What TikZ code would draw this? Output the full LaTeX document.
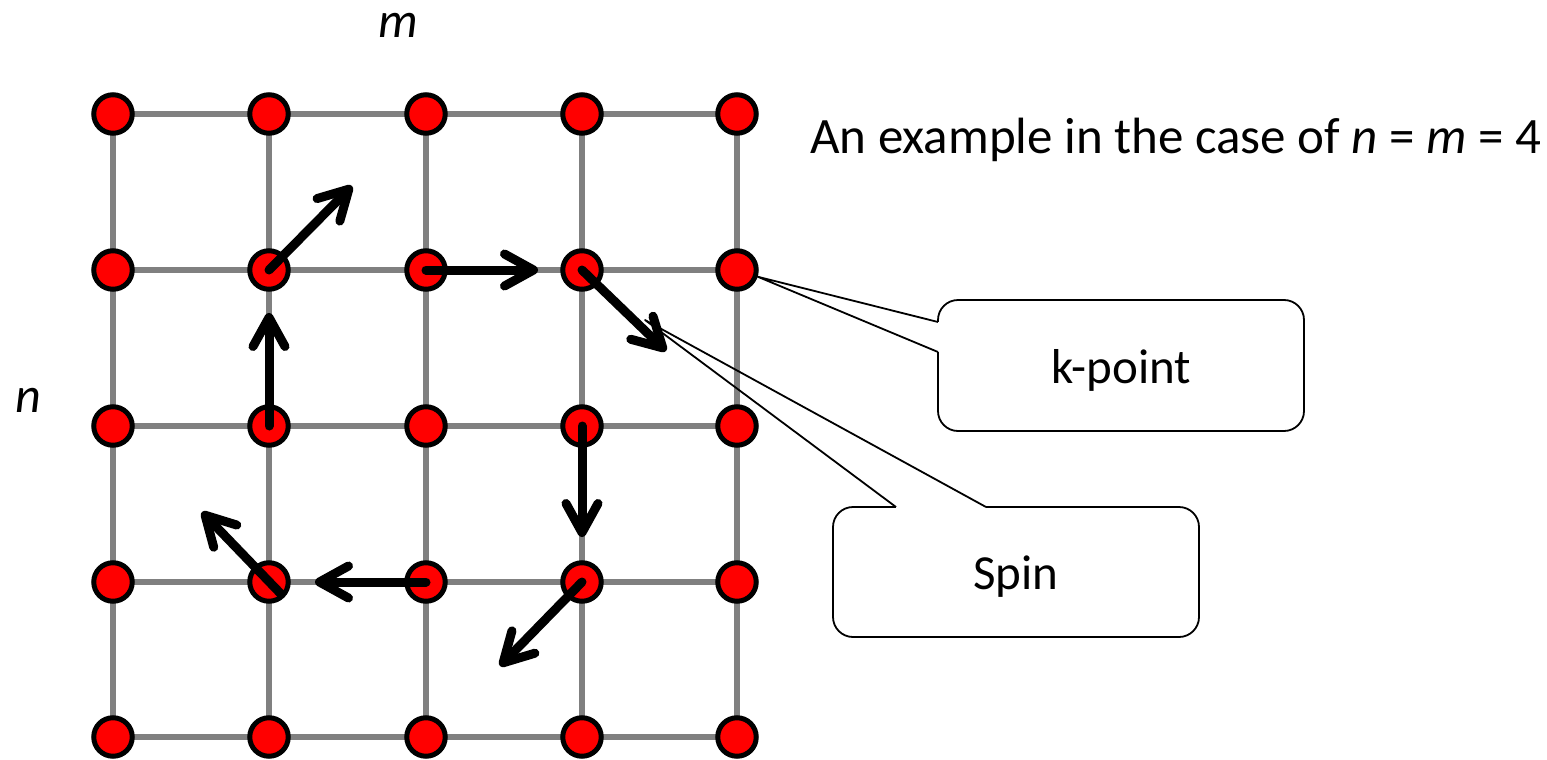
\documentclass[tikz,border=0pt]{standalone}
\usepackage{fontspec}
\setmainfont{Carlito}
\usetikzlibrary{arrows.meta}
\pgfdeclarelayer{background}
\pgfsetlayers{background,main}
\definecolor{gridgray}{RGB}{128,128,128}
\begin{document}
\begin{tikzpicture}[x=1pt,y=-1pt,
  site/.style={circle,fill=red,draw=black,line width=5pt,minimum size=38.5pt,inner sep=0pt},
  bond/.style={gridgray,line width=5.5pt},
  spin/.style={line width=9pt,line cap=round,-{Straight Barb[length=29pt,width=32pt,round]}},
  callbox/.style={draw=black,line width=1.8pt,rounded corners=20pt,fill=white,
    minimum width=366pt,inner sep=0pt,text height=45pt,text depth=10pt,
    font=\fontsize{49}{58}\selectfont},
  pointer/.style={black,line width=1.8pt,line join=round},
  lbl/.style={inner sep=0pt,font=\fontsize{50}{60}\selectfont}
]
\useasboundingbox (0,0) rectangle (1547,760);

% lattice sites
\foreach \x [count=\i from 0] in {113,269,426,582,737}{
  \foreach \y [count=\j from 0] in {114,270,426,582,737}{
    \node[site] (s\i\j) at (\x,\y) {};
  }
}
% bonds
\begin{pgfonlayer}{background}
\foreach \k in {0,...,4}{
  \draw[bond] (s0\k.center) -- (s4\k.center);
  \draw[bond] (s\k0.center) -- (s\k4.center);
}
\end{pgfonlayer}

% labels
\node[lbl,anchor=base] (mlab) at (398,38) {\textit{m}};
\node[lbl,anchor=base] (nlab) at (28,412) {\textit{n}};
\node[inner sep=0pt,anchor=base west,font=\fontsize{51}{61}\selectfont] (title) at (810,153)
  {An example in the case of \textit{n} = \textit{m} = 4};

% callouts
\node[callbox,minimum height=131pt] (kbox) at (1121,365.5) {k-point};
\node[callbox,minimum height=130pt] (sbox) at (1016,572) {Spin};
\coordinate (ktip) at (s41.-18);
\coordinate (kb1) at (938,322);
\coordinate (kb2) at (938,352);
\coordinate (stip) at (645,320);
\coordinate (sb1) at (896,507);
\coordinate (sb2) at (986,507);
\draw[white,line width=3pt] (kb1) -- (kb2);
\draw[white,line width=3pt] (sb1) -- (sb2);
\draw[pointer] (kb1) -- (ktip) -- (kb2);
\draw[pointer] (sb1) -- (stip) -- (sb2);

% spins
\draw[spin] (s11.center) -- ++(83,-84);
\draw[spin] (s12.center) -- ++(0,-113);
\draw[spin] (s21.center) -- ++(112,0);
\draw[spin] (s31.center) -- ++(84,81);
\draw[spin] (s32.center) -- ++(0,111);
\draw[spin] (s23.center) -- ++(-111,0);
\draw[spin] ([shift={(12,12)}]s13.center) -- ++(-79,-82);
\draw[spin] (s33.center) -- ++(-82,84);
\end{tikzpicture}
\end{document}
